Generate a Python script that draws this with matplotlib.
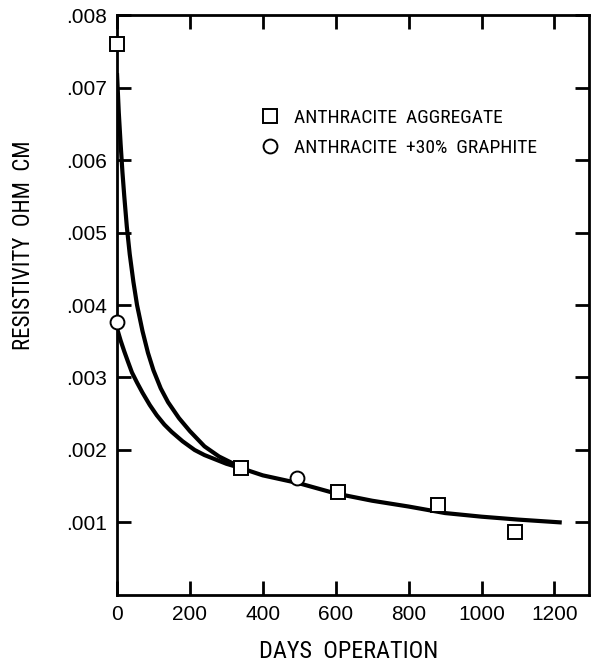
import matplotlib

matplotlib.use("Agg")
import matplotlib.pyplot as plt
from matplotlib.lines import Line2D

# Measured points
agg_days = [0, 340, 605, 880, 1093]
agg_res = [0.00760, 0.00175, 0.00142, 0.00124, 0.00087]
gra_days = [0, 495]
gra_res = [0.00377, 0.00162]

# Fitted curves
agg_curve_days = [0, 5, 10, 15, 20, 27, 35, 45, 55, 70, 85, 100, 120, 140, 170,
                  200, 240, 280, 320, 340]
agg_curve_res = [0.00720, 0.00665, 0.00622, 0.00583, 0.00550, 0.00508, 0.00470,
                 0.00432, 0.00400, 0.00364, 0.00334, 0.00310, 0.00285, 0.00266,
                 0.00244, 0.00226, 0.00205, 0.00191, 0.00181, 0.00175]
gra_curve_days = [0, 10, 20, 30, 41, 55, 70, 90, 109, 130, 150, 180, 213, 240,
                  270, 300, 340]
gra_curve_res = [0.00368, 0.00351, 0.00336, 0.00322, 0.00307, 0.00293, 0.00279,
                 0.00262, 0.00248, 0.00235, 0.00225, 0.00212, 0.00200, 0.00193,
                 0.00187, 0.00181, 0.00175]
tail_days = [340, 400, 500, 600, 700, 800, 900, 1000, 1100, 1220]
tail_res = [0.00175, 0.00165, 0.00154, 0.00140, 0.00130, 0.00122, 0.00113,
            0.00108, 0.00104, 0.00100]

x_ticks = [0, 200, 400, 600, 800, 1000, 1200]
y_ticks = [0.001, 0.002, 0.003, 0.004, 0.005, 0.006, 0.007, 0.008]
y_labels = [".001", ".002", ".003", ".004", ".005", ".006", ".007", ".008"]

NARROW = ["Roboto Condensed", "DejaVu Sans"]
plt.rcParams["font.family"] = ["Liberation Sans", "DejaVu Sans"]

fig = plt.figure(figsize=(5.92, 6.65), dpi=100)
ax = fig.add_axes([0.1976, 0.1053, 0.7975, 0.8721])

line_kw = dict(color="black", linewidth=3.0, solid_capstyle="butt",
               solid_joinstyle="round", zorder=2)
ax.plot(agg_curve_days, agg_curve_res, **line_kw)
ax.plot(gra_curve_days, gra_curve_res, **line_kw)
ax.plot(tail_days, tail_res, **line_kw)

mk_kw = dict(linestyle="none", markersize=10, markerfacecolor="white",
             markeredgecolor="black", markeredgewidth=1.4, zorder=3, clip_on=False)
ax.plot(agg_days, agg_res, marker="s", **mk_kw)
ax.plot(gra_days, gra_res, marker="o", **mk_kw)

ax.set_xlim(0, 1295)
ax.set_ylim(0, 0.008)
ax.set_xticks(x_ticks)
ax.set_yticks(y_ticks)
ax.set_yticklabels(y_labels)
ax.tick_params(direction="in", length=10, width=2, labelsize=15,
               top=True, right=True, pad=7)
for s in ax.spines.values():
    s.set_linewidth(2)

ax.set_xlabel("DAYS  OPERATION", family=NARROW, fontsize=17.5)
ax.xaxis.set_label_coords(0.49, -0.077)
ax.set_ylabel("RESISTIVITY  OHM  CM", family=NARROW, fontsize=16.5)
ax.yaxis.set_label_coords(-0.173, 0.603)

handles = [
    Line2D([], [], marker="s", linestyle="none", markersize=10,
           markerfacecolor="white", markeredgecolor="black", markeredgewidth=1.4),
    Line2D([], [], marker="o", linestyle="none", markersize=10,
           markerfacecolor="white", markeredgecolor="black", markeredgewidth=1.4),
]
ax.legend(handles, ["ANTHRACITE  AGGREGATE", "ANTHRACITE  +30%  GRAPHITE"],
          loc="upper left", bbox_to_anchor=(0.283, 0.855), frameon=False,
          prop={"family": NARROW, "size": 14}, handlelength=1.0,
          handletextpad=0.75, labelspacing=0.62, borderpad=0)

fig.savefig("out.png", dpi=100)
